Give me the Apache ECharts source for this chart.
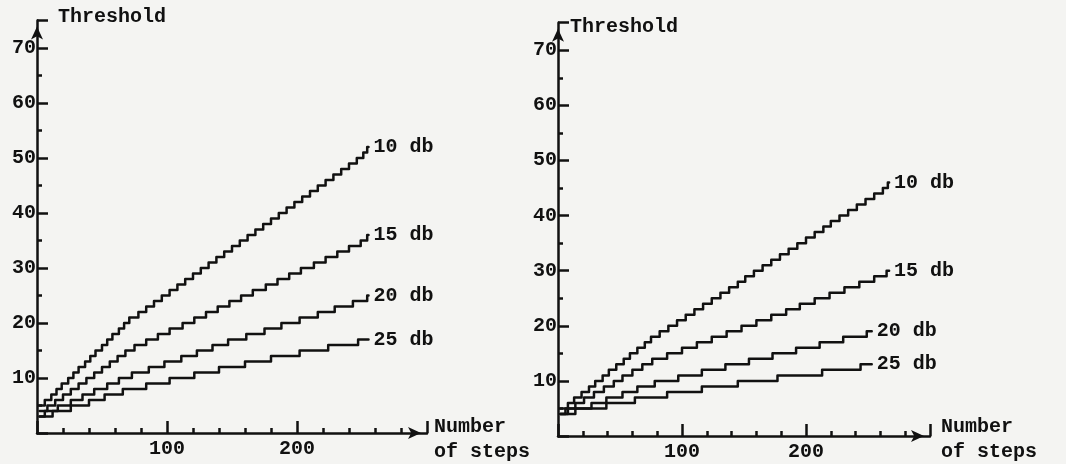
<!DOCTYPE html>
<html>
<head>
<meta charset="utf-8">
<script src="https://cdn.jsdelivr.net/npm/echarts@6/dist/echarts.min.js"></script>
<style>
html,body{margin:0;padding:0;background:#f4f4f2;}
#chart{width:1066px;height:464px;}
</style>
</head>
<body>
<div id="chart"></div>
<script>
// ---- data ----
var seriesNames = ['10 db', '15 db', '20 db', '25 db'];
var yTickLabels = [10, 20, 30, 40, 50, 60, 70];
var xTickLabels = [100, 200];

// left panel: [number of steps, threshold]
var left10 = [[2,5],[6,6],[11,7],[15,8],[19,9],[24,10],[28,11],[32,12],[37,13],[41,14],[45,15],[50,16],[54,17],[58,18],[63,19],[67,20],[71,21],[78,22],[84,23],[90,24],[96,25],[102,26],[108,27],[114,28],[120,29],[126,30],[132,31],[138,32],[144,33],[150,34],[156,35],[162,36],[168,37],[174,38],[180,39],[186,40],[192,41],[198,42],[204,43],[210,44],[216,45],[222,46],[228,47],[234,48],[240,49],[246,50],[251,51],[254,52],[255,52]];
var left15 = [[2,4],[8,5],[14,6],[20,7],[26,8],[32,9],[38,10],[44,11],[50,12],[56,13],[62,14],[68,15],[75,16],[84,17],[93,18],[102,19],[112,20],[121,21],[130,22],[139,23],[148,24],[157,25],[166,26],[176,27],[185,28],[194,29],[203,30],[213,31],[222,32],[231,33],[240,34],[249,35],[254,36],[255,36]];
var left20 = [[2,3],[6,4],[16,5],[26,6],[35,7],[44,8],[54,9],[63,10],[73,11],[86,12],[98,13],[111,14],[123,15],[135,16],[147,17],[161,18],[175,19],[188,20],[202,21],[216,22],[229,23],[243,24],[254,25],[255,25]];
var left25 = [[2,3],[12,4],[26,5],[40,6],[52,7],[66,8],[84,9],[102,10],[121,11],[140,12],[160,13],[180,14],[202,15],[224,16],[247,17],[255,17]];

// right panel
var right10 = [[2,5],[8,6],[13,7],[19,8],[25,9],[30,10],[36,11],[41,12],[47,13],[53,14],[58,15],[64,16],[70,17],[75,18],[82,19],[89,20],[96,21],[103,22],[110,23],[117,24],[124,25],[131,26],[138,27],[145,28],[151,29],[158,30],[165,31],[172,32],[179,33],[186,34],[193,35],[200,36],[207,37],[214,38],[220,39],[227,40],[234,41],[241,42],[248,43],[255,44],[262,45],[266,46],[267,46]];
var right15 = [[2,4],[6,5],[14,6],[21,7],[29,8],[37,9],[45,10],[52,11],[60,12],[68,13],[76,14],[88,15],[100,16],[112,17],[124,18],[136,19],[148,20],[160,21],[172,22],[184,23],[195,24],[207,25],[219,26],[231,27],[243,28],[255,29],[265,30],[267,30]];
var right20 = [[2,4],[14,5],[27,6],[39,7],[52,8],[64,9],[78,10],[97,11],[116,12],[135,13],[154,14],[173,15],[192,16],[211,17],[230,18],[249,19],[253,19]];
var right25 = [[2,4],[8,5],[39,6],[62,7],[88,8],[116,9],[145,10],[177,11],[213,12],[244,13],[253,13]];

// ---- chart ----
var FONT = 'Liberation Mono';
var FW = 'bold';
var INK = '#111';
var chart = echarts.init(document.getElementById('chart'));

function xAxes(grid) {
  return [
    { type: 'value', gridIndex: grid, min: 0, max: 300, interval: 100, position: 'bottom',
      axisLine: { show: true, onZero: false, lineStyle: { color: INK, width: 2.5 },
                  symbol: ['none', 'arrow'], symbolSize: [9, 13], symbolOffset: [0, -6] },
      axisTick: { show: true, inside: true, length: 12, lineStyle: { color: INK, width: 2.5 } },
      axisLabel: { show: true, margin: 6, color: INK, fontFamily: FONT, fontWeight: FW, fontSize: 20,
                   formatter: function (v) { return xTickLabels.indexOf(v) >= 0 ? String(v) : ''; } },
      splitLine: { show: false } },
    { type: 'value', gridIndex: grid, min: 0, max: 300, interval: 20, position: 'bottom',
      axisLine: { show: false, onZero: false },
      axisTick: { show: true, inside: true, length: 5, lineStyle: { color: INK, width: 2.5 } },
      axisLabel: { show: false }, splitLine: { show: false } }
  ];
}
function yAxes(grid) {
  return [
    { type: 'value', gridIndex: grid, min: 0, max: 75, interval: 10, position: 'left',
      axisLine: { show: true, onZero: false, lineStyle: { color: INK, width: 2.5 },
                  symbol: ['none', 'arrow'], symbolSize: [9, 13], symbolOffset: [0, -6] },
      axisTick: { show: true, inside: true, length: 11, lineStyle: { color: INK, width: 2.5 } },
      axisLabel: { show: true, margin: 1, color: INK, fontFamily: FONT, fontWeight: FW, fontSize: 20,
                   formatter: function (v) { return yTickLabels.indexOf(v) >= 0 ? String(v) : ''; } },
      splitLine: { show: false } },
    { type: 'value', gridIndex: grid, min: 0, max: 75, interval: 5, position: 'left',
      axisLine: { show: false, onZero: false },
      axisTick: { show: true, inside: true, length: 5, lineStyle: { color: INK, width: 2.5 } },
      axisLabel: { show: false }, splitLine: { show: false } }
  ];
}

function curve(name, data, xi, yi) {
  return {
    type: 'line', name: name, data: data, step: 'end', xAxisIndex: xi, yAxisIndex: yi,
    symbol: 'none', silent: true, animation: false,
    lineStyle: { color: INK, width: 2.5, join: 'round', cap: 'round' },
    endLabel: { show: true, formatter: '{a}', distance: 5, color: INK, fontFamily: FONT, fontWeight: FW, fontSize: 20 }
  };
}

var TXT = 'bold 20px "Liberation Mono"';
var option = {
  backgroundColor: '#f4f4f2',
  animation: false,
  grid: [
    { left: 37, top: 20.5, width: 390, height: 412.5, containLabel: false, outerBoundsMode: 'none' },
    { left: 558, top: 22.7, width: 372, height: 413.3, containLabel: false, outerBoundsMode: 'none' }
  ],
  xAxis: xAxes(0).concat(xAxes(1)),
  yAxis: yAxes(0).concat(yAxes(1)),
  series: [
    curve(seriesNames[0], left10, 0, 0),
    curve(seriesNames[1], left15, 0, 0),
    curve(seriesNames[2], left20, 0, 0),
    curve(seriesNames[3], left25, 0, 0),
    curve(seriesNames[0], right10, 2, 2),
    curve(seriesNames[1], right15, 2, 2),
    curve(seriesNames[2], right20, 2, 2),
    curve(seriesNames[3], right25, 2, 2)
  ],
  graphic: [
    { type: 'text', left: 58, top: 7, style: { text: 'Threshold', font: TXT, fill: INK } },
    { type: 'text', left: 570, top: 17, style: { text: 'Threshold', font: TXT, fill: INK } },
    { type: 'text', left: 434, top: 414, style: { text: 'Number\nof steps', font: TXT, fill: INK, lineHeight: 25 } },
    { type: 'text', left: 941, top: 414, style: { text: 'Number\nof steps', font: TXT, fill: INK, lineHeight: 25 } }
  ]
};
chart.setOption(option);
</script>
</body>
</html>
